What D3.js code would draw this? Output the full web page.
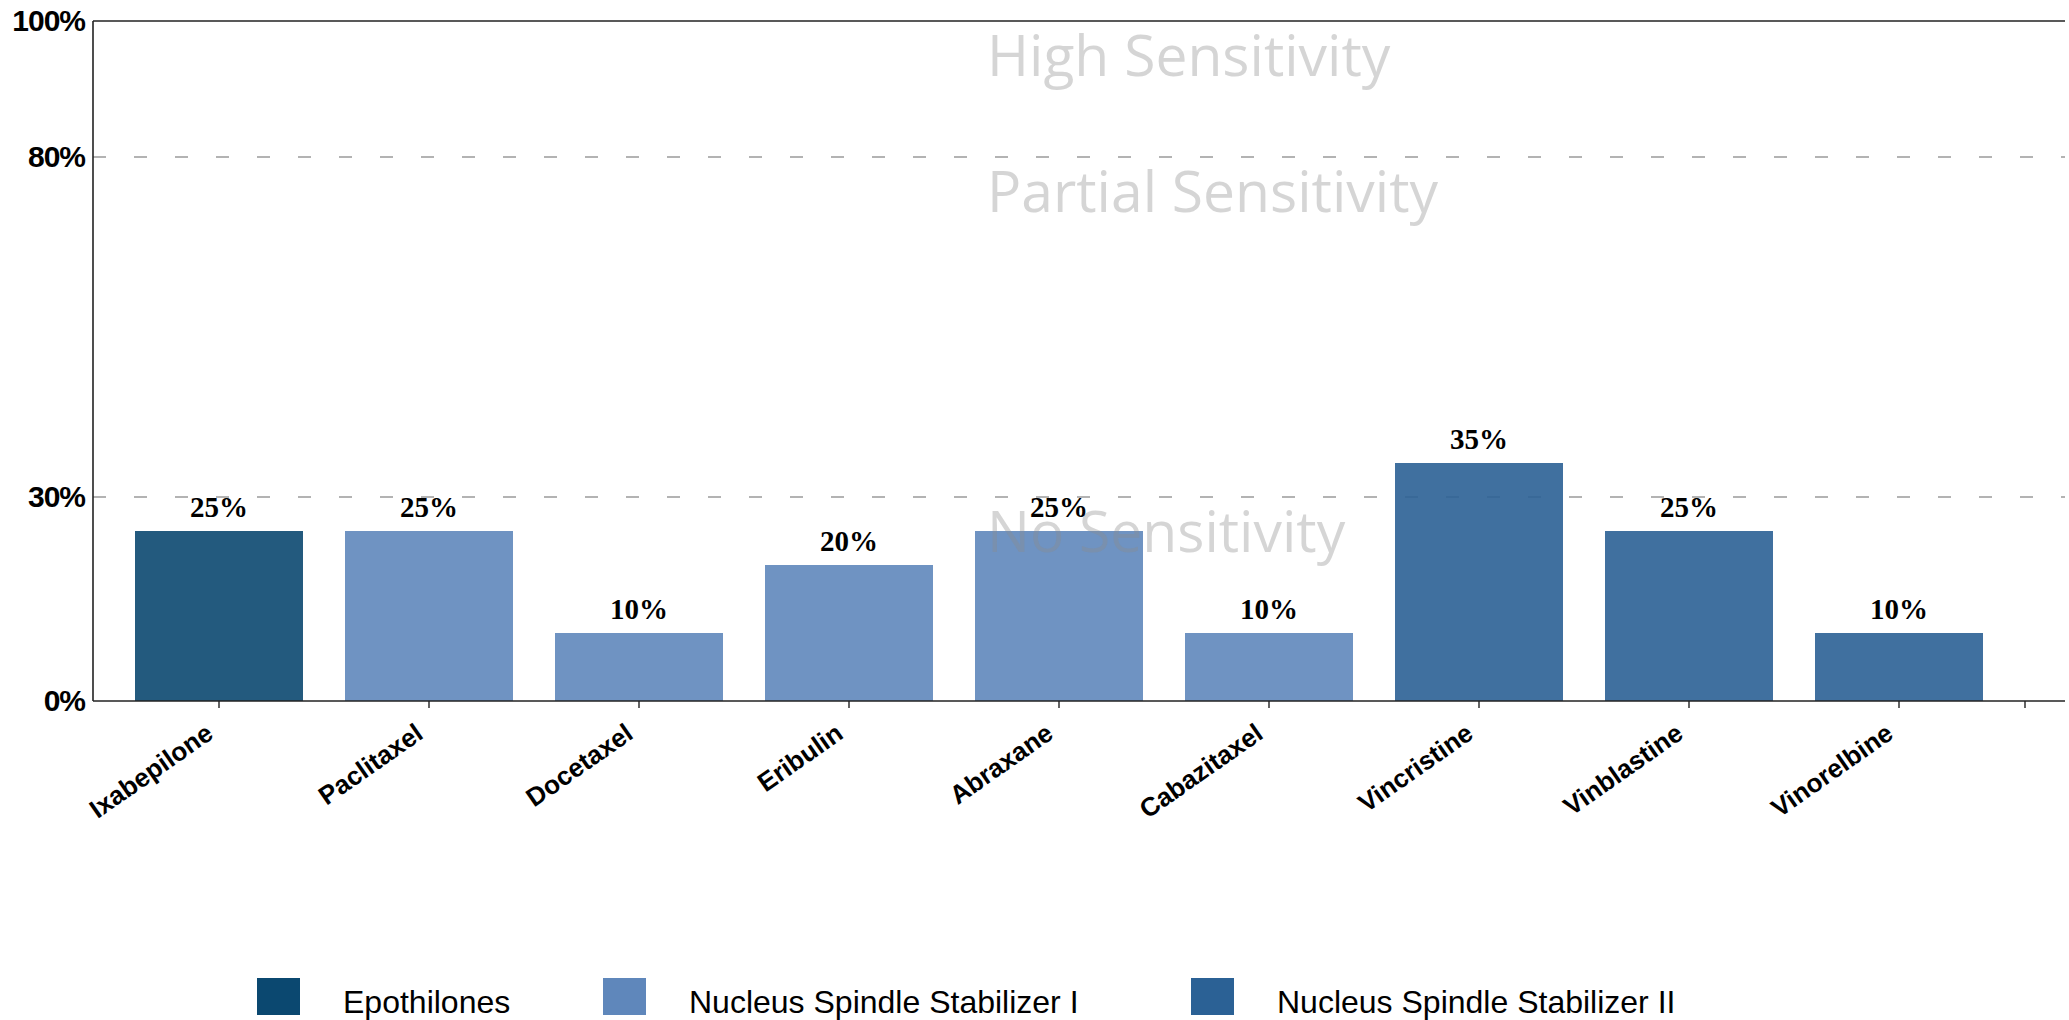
<!DOCTYPE html>
<html>
<head>
<meta charset="utf-8">
<script src="https://cdn.jsdelivr.net/npm/d3@7"></script>
<style>
  html, body { margin: 0; padding: 0; background: #fff; }
  svg { display: block; }
</style>
</head>
<body>
<svg id="chart" width="2069" height="1020"></svg>
<script>
// ---- data ----
const categories = ["Ixabepilone", "Paclitaxel", "Docetaxel", "Eribulin", "Abraxane", "Cabazitaxel", "Vincristine", "Vinblastine", "Vinorelbine"];
const values = [25, 25, 10, 20, 25, 10, 35, 25, 10];
const groupOf = ["Epothilones", "Nucleus Spindle Stabilizer I", "Nucleus Spindle Stabilizer I", "Nucleus Spindle Stabilizer I", "Nucleus Spindle Stabilizer I", "Nucleus Spindle Stabilizer I", "Nucleus Spindle Stabilizer II", "Nucleus Spindle Stabilizer II", "Nucleus Spindle Stabilizer II"];
const groupNames = ["Epothilones", "Nucleus Spindle Stabilizer I", "Nucleus Spindle Stabilizer II"];
const groupColors = ["#0b4870", "#5f87bb", "#2b6195"];
const yTicks = [0, 30, 80, 100];
const thresholds = [30, 80];
const zoneLabels = ["High Sensitivity", "Partial Sensitivity", "No Sensitivity"];
const zoneTops = [100, 80, 30];

(function () {
// ---- layout ----
const svg = d3.select("#chart");
const mLeft = 93, mTop = 21, mBottom = 701, bandEnd = 2025, lineEnd = 2065;

const x = d3.scaleBand().domain(categories).range([mLeft, bandEnd]).paddingInner(0.2).paddingOuter(0.2);
const y = d3.scaleLinear().domain([0, 100]).range([mBottom, mTop]);
const color = d3.scaleOrdinal().domain(groupNames).range(groupColors);

// threshold dashed lines
svg.append("g").selectAll("line").data(thresholds).join("line")
  .attr("x1", mLeft).attr("x2", lineEnd)
  .attr("y1", d => y(d)).attr("y2", d => y(d))
  .attr("stroke", "#9a9a9a").attr("stroke-width", 1.5)
  .attr("stroke-dasharray", "13,28");

// bars
svg.append("g").selectAll("rect").data(categories).join("rect")
  .attr("x", d => x(d))
  .attr("width", x.bandwidth())
  .attr("y", (d, i) => y(values[i]))
  .attr("height", (d, i) => y(0) - y(values[i]))
  .attr("fill", (d, i) => color(groupOf[i]))
  .attr("fill-opacity", 0.9);

// zone labels (semi-transparent, over bars)
svg.append("g").selectAll("text").data(zoneLabels).join("text")
  .attr("x", 987)
  .attr("y", (d, i) => y(zoneTops[i]) + 55)
  .attr("font-family", "'Open Sans', sans-serif")
  .attr("font-size", 57)
  .attr("fill", "#8a8a8a")
  .attr("fill-opacity", 0.36)
  .text(d => d);

// value labels
svg.append("g").selectAll("text").data(categories).join("text")
  .attr("x", d => x(d) + x.bandwidth() / 2)
  .attr("y", (d, i) => y(values[i]) - 14)
  .attr("text-anchor", "middle")
  .attr("font-family", "'Liberation Serif', 'Times New Roman', serif")
  .attr("font-weight", "bold")
  .attr("font-size", 29)
  .attr("fill", "#000")
  .text((d, i) => values[i] + "%");

// axes frame
const frame = svg.append("g").attr("stroke", "#222").attr("stroke-width", 1.6);
frame.append("line").attr("x1", mLeft).attr("x2", lineEnd).attr("y1", y(100)).attr("y2", y(100));
frame.append("line").attr("x1", mLeft).attr("x2", mLeft).attr("y1", y(100)).attr("y2", y(0));

// x axis
const xAxis = svg.append("g").attr("transform", `translate(0,${mBottom})`)
  .call(d3.axisBottom(x).tickSize(7).tickSizeOuter(0));
xAxis.select(".domain").attr("d", `M${mLeft},0H${lineEnd}`).attr("stroke", "#222").attr("stroke-width", 1.6);
xAxis.selectAll(".tick line").attr("stroke", "#222").attr("stroke-width", 1.4);
xAxis.append("line").attr("x1", bandEnd).attr("x2", bandEnd).attr("y1", 0).attr("y2", 7)
  .attr("stroke", "#222").attr("stroke-width", 1.4);
xAxis.selectAll(".tick text")
  .attr("font-family", "Arial, 'Liberation Sans', sans-serif")
  .attr("font-weight", "bold")
  .attr("font-size", 26)
  .attr("fill", "#000")
  .attr("text-anchor", "end")
  .attr("dy", 0)
  .attr("transform", "translate(-10,28) rotate(-35)");

// y axis
const yAxis = svg.append("g").attr("transform", `translate(${mLeft},0)`)
  .call(d3.axisLeft(y).tickValues(yTicks).tickSize(0).tickPadding(8).tickFormat(d => d + "%"));
yAxis.select(".domain").remove();
yAxis.selectAll(".tick text")
  .attr("font-family", "Arial, 'Liberation Sans', sans-serif")
  .attr("font-weight", "bold")
  .attr("font-size", 30)
  .attr("letter-spacing", -1)
  .attr("fill", "#000");

// legend
const legendX = [257, 603, 1191];
const legend = svg.append("g");
legend.selectAll("rect").data(groupNames).join("rect")
  .attr("x", (d, i) => legendX[i]).attr("y", 978)
  .attr("width", 43).attr("height", 37)
  .attr("fill", d => color(d));
legend.selectAll("text").data(groupNames).join("text")
  .attr("x", (d, i) => legendX[i] + 86).attr("y", 1013)
  .attr("font-family", "Arial, 'Liberation Sans', sans-serif")
  .attr("font-size", 32)
  .attr("fill", "#000")
  .text(d => d);
})();
</script>
</body>
</html>
